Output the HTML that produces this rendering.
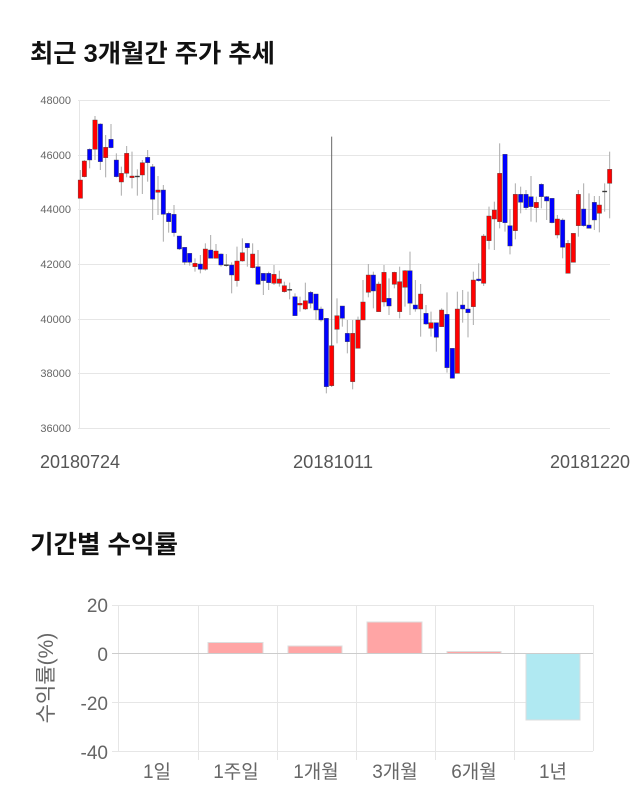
<!DOCTYPE html>
<html><head><meta charset="utf-8"><style>
body{margin:0;background:#fff;width:640px;height:810px;overflow:hidden}
svg{display:block}
</style></head><body>
<svg id="s" width="640" height="810" xmlns="http://www.w3.org/2000/svg" font-family="Liberation Sans, Noto Sans CJK KR, sans-serif">
<text x="30" y="62" font-size="25" font-weight="bold" fill="#111" textLength="245" lengthAdjust="spacingAndGlyphs">최근 3개월간 주가 추세</text>
<g stroke="#e6e6e6" stroke-width="1">
<line x1="78" y1="100.5" x2="610" y2="100.5"/><line x1="78" y1="155.5" x2="610" y2="155.5"/>
<line x1="78" y1="209.5" x2="610" y2="209.5"/><line x1="78" y1="264.5" x2="610" y2="264.5"/>
<line x1="78" y1="319.5" x2="610" y2="319.5"/><line x1="78" y1="373.5" x2="610" y2="373.5"/>
<line x1="78" y1="428.5" x2="610" y2="428.5"/><line x1="79.5" y1="100" x2="79.5" y2="428"/>
</g>
<g font-size="11" fill="#666" text-anchor="end">
<text x="71" y="104">48000</text><text x="71" y="159">46000</text><text x="71" y="213">44000</text>
<text x="71" y="268">42000</text><text x="71" y="323">40000</text><text x="71" y="377">38000</text><text x="71" y="432">36000</text>
</g>
<g font-size="18" fill="#555" text-anchor="middle">
<text x="80" y="468" textLength="80" lengthAdjust="spacingAndGlyphs">20180724</text><text x="333" y="468" textLength="80" lengthAdjust="spacingAndGlyphs">20181011</text><text x="590" y="468" textLength="80" lengthAdjust="spacingAndGlyphs">20181220</text>
</g>
<g id="c"></g>
<text x="30" y="553" font-size="25" font-weight="bold" fill="#111" textLength="148" lengthAdjust="spacingAndGlyphs">기간별 수익률</text>
<g stroke="#e6e6e6" stroke-width="1">
<line x1="118" y1="605.5" x2="593" y2="605.5"/><line x1="118" y1="702.5" x2="593" y2="702.5"/>
<line x1="118" y1="751.5" x2="593" y2="751.5"/>
<line x1="198.5" y1="605" x2="198.5" y2="760"/><line x1="277.5" y1="605" x2="277.5" y2="760"/>
<line x1="356.5" y1="605" x2="356.5" y2="760"/><line x1="435.5" y1="605" x2="435.5" y2="760"/>
<line x1="514.5" y1="605" x2="514.5" y2="760"/><line x1="593.5" y1="605" x2="593.5" y2="751"/>
<line x1="118.5" y1="605" x2="118.5" y2="751"/>
<line x1="112" y1="605.5" x2="118" y2="605.5"/><line x1="112" y1="702.5" x2="118" y2="702.5"/><line x1="112" y1="751.5" x2="118" y2="751.5"/>
</g>
<g stroke="#ddd" stroke-width="1">
<rect x="208" y="642.5" width="55" height="11" fill="#ffa5a5"/>
<rect x="288" y="646" width="54" height="7.5" fill="#ffa5a5"/>
<rect x="367" y="622" width="55" height="31.5" fill="#ffa5a5"/>
<rect x="447" y="651.5" width="54" height="2" fill="#ffa5a5"/>
<rect x="526" y="653.5" width="54" height="66.5" fill="#b0e9f2"/>
</g>
<line x1="112" y1="653.5" x2="593" y2="653.5" stroke="#ccc"/>
<g font-size="19" fill="#666" text-anchor="end">
<text x="108" y="612">20</text><text x="108" y="661">0</text><text x="108" y="710">-20</text><text x="108" y="759">-40</text>
</g>
<text transform="translate(53,678) rotate(-90)" font-size="21" fill="#666" text-anchor="middle">수익률(%)</text>
<g font-size="19" fill="#666" text-anchor="middle">
<text x="157" y="778">1일</text><text x="236" y="778">1주일</text><text x="316" y="778">1개월</text>
<text x="395" y="778">3개월</text><text x="474" y="778">6개월</text><text x="553" y="778">1년</text>
</g>
</svg>
<script>
var A=[[31,270,325,'r',240,325],[43,213,260,'r',210,262],[59,178,210,'b',175,235],[75,90,178,'r',78,210],[91,102,215,'b',100,240],[107,172,203,'r',135,262],[123,148,173,'b',102,175],[139,210,260,'b',190,262],[154,250,276,'r',230,317],[170,190,250,'r',168,262],[186,258,263,'r',185,295],[202,258,260,'d',238,317],[217,218,255,'r',210,312],[233,202,218,'b',180,275],[248,230,328,'b',222,390],[264,300,307,'r',258,375],[280,300,373,'b',285,455],[296,370,395,'b',365,428],[312,373,428,'b',345,440],[328,438,477,'b',438,480],[344,472,517,'b',472,525],[359,490,517,'b',490,527],[375,520,530,'r',505,545],[391,522,538,'b',495,550],[406,477,538,'r',460,542],[422,480,505,'b',435,505],[438,483,505,'r',462,505],[453,492,525,'b',490,530],[469,524,526,'d',492,530],[485,525,555,'b',517,610],[501,513,572,'r',470,590],[517,488,513,'r',445,515],[532,460,473,'b',460,530],[548,492,533,'r',460,535],[564,530,583,'b',480,585],[580,550,572,'b',550,615],[596,550,578,'b',545,600],[612,553,580,'r',525,585],[628,567,580,'r',542,590],[643,587,605,'r',575,608],[659,598,600,'d',578,628],[675,620,677,'b',610,677],[690,640,645,'r',620,665],[706,632,657,'r',578,660],[722,607,640,'b',603,655],[738,612,660,'b',612,690],[753,657,690,'b',650,695],[769,685,890,'b',685,910],[785,767,887,'r',140,890],[801,677,718,'r',625,760],[817,648,685,'b',648,710],[832,730,755,'b',690,790]];
var B=[[68,730,875,'r',690,898],[84,690,775,'r',680,775],[99,636,690,'r',570,690],[115,555,607,'r',522,622],[130,555,603,'b',545,655],[146,582,665,'r',575,665],[162,547,636,'r',525,650],[177,625,648,'b',565,675],[193,547,583,'r',545,595],[209,575,665,'r',530,685],[225,542,592,'r',540,650],[240,542,640,'b',485,675],[256,645,657,'b',570,665],[272,612,657,'r',582,740],[288,670,702,'b',645,705],[303,698,715,'r',665,740],[319,698,742,'b',698,785],[335,660,710,'r',655,710],[351,673,833,'b',607,848],[367,775,865,'b',775,865],[382,657,850,'r',605,850],[398,645,657,'b',600,698],[414,657,668,'b',605,742],[430,570,650,'r',545,705],[446,567,572,'b',520,575],[461,438,580,'r',432,588],[477,378,452,'r',350,478],[493,360,387,'r',335,480],[509,250,395,'r',160,415],[525,193,398,'b',193,425],[540,407,468,'b',357,493],[556,313,422,'r',280,448],[572,313,337,'b',290,370],[588,313,353,'b',300,360],[603,320,350,'b',258,395],[619,337,353,'r',320,397],[634,283,320,'b',280,355],[650,320,333,'b',318,390],[666,325,398,'b',325,400],[682,387,435,'r',375,445],[698,390,472,'b',385,505],[714,460,550,'r',450,550],[730,430,517,'r',430,517],[745,313,407,'r',300,440],[761,357,407,'b',280,410],[777,405,415,'b',310,415],[793,337,390,'b',318,420],[808,345,370,'r',318,427],[824,303,305,'d',280,365],[839,238,280,'r',185,385]];
var h='';
function add(L,ox){L.forEach(function(c){var x=ox+c[0]/3,bt=90+c[1]/3,bb=90+c[2]/3,wt=90+c[4]/3,wb=90+c[5]/3;
var col=c[3]=='r'?'#f00':c[3]=='b'?'#00f':'#333';
var wc=c[0]==785&&ox==70?'#666':'#aaa';
h+='<line x1="'+x+'" y1="'+wt+'" x2="'+x+'" y2="'+wb+'" stroke="'+wc+'" stroke-width="1"/>';
h+='<rect x="'+(x-2.2)+'" y="'+bt+'" width="4.4" height="'+Math.max(bb-bt,1)+'" fill="'+col+'" stroke="#444" stroke-width="0.4"/>';});}
add(A,70);add(B,330);
document.getElementById('c').innerHTML=h;
</script>
</body></html>
